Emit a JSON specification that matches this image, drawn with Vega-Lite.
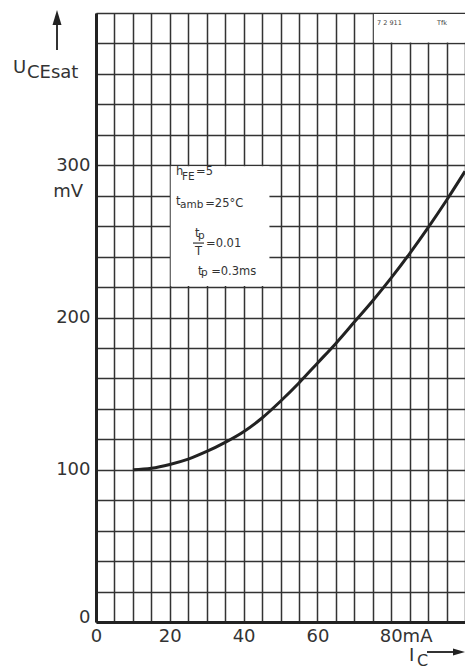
{
  "$schema": "https://vega.github.io/schema/vega-lite/v6.json",
  "width": 369,
  "height": 609,
  "autosize": {"type": "none"},
  "padding": {"left": 96, "top": 13, "right": 0, "bottom": 47},
  "background": "white",
  "view": {"stroke": null},
  "resolve": {"axis": {"x": "independent", "y": "independent"}},
  "config": {
    "font": "DejaVu Sans",
    "axis": {
      "grid": true,
      "gridColor": "#333333",
      "gridWidth": 1.5,
      "domainColor": "#222222",
      "domainWidth": 3,
      "ticks": false,
      "labelFont": "DejaVu Sans",
      "labelFontSize": 18,
      "labelColor": "#333333",
      "title": null
    }
  },
  "datasets": {
    "curve": [
      {"ic": 10, "u": 100}, {"ic": 15, "u": 101}, {"ic": 20, "u": 103.5}, {"ic": 25, "u": 107},
      {"ic": 30, "u": 112}, {"ic": 35, "u": 118}, {"ic": 40, "u": 125}, {"ic": 45, "u": 134},
      {"ic": 50, "u": 145}, {"ic": 55, "u": 157}, {"ic": 60, "u": 170}, {"ic": 65, "u": 183},
      {"ic": 70, "u": 197}, {"ic": 75, "u": 211}, {"ic": 80, "u": 226}, {"ic": 85, "u": 242},
      {"ic": 90, "u": 259}, {"ic": 95, "u": 277}, {"ic": 100, "u": 296}
    ],
    "boxes": [
      {"x1": 20.25, "x2": 47, "y1": 220.7, "y2": 299.3},
      {"x1": 75.3, "x2": 101, "y1": 380.7, "y2": 399.3}
    ],
    "mainText": [
      {"x": 21.68, "y": 293.6, "t": "h"},
      {"x": 27.1, "y": 293.6, "t": "=5"},
      {"x": 21.68, "y": 273.9, "t": "t"},
      {"x": 29.6, "y": 272.6, "t": "=25°C"},
      {"x": 26.83, "y": 252.9, "t": "t"},
      {"x": 29.81, "y": 246.3, "t": "=0.01"},
      {"x": 27.64, "y": 227.9, "t": "t"},
      {"x": 31.2, "y": 227.9, "t": "=0.3ms"}
    ],
    "subText": [
      {"x": 23.31, "y": 290.3, "t": "FE"},
      {"x": 22.76, "y": 271.9, "t": "amb"},
      {"x": 27.64, "y": 251.6, "t": "p"},
      {"x": 28.46, "y": 227.3, "t": "p"}
    ],
    "centerText": [
      {"x": 27.78, "y": 241.1, "t": "T"}
    ],
    "fracBar": [
      {"x1": 26.29, "x2": 29.27, "y": 248.9}
    ],
    "tinyText": [
      {"x": 76.15, "y": 392.1, "t": "7 2 911"},
      {"x": 92.4, "y": 392.1, "t": "Tfk"}
    ],
    "bigText": [
      {"x": -22.49, "y": 360.6, "t": "U"},
      {"x": -18.7, "y": 357.3, "t": "CEsat"},
      {"x": 84.82, "y": -25.6, "t": "I"}
    ],
    "bigSub": [
      {"x": 86.99, "y": -28.6, "t": "C"}
    ],
    "unitText": [
      {"x": -3.52, "y": 279.1, "t": "mV"}
    ],
    "arrowsV": [
      {"x": -10.57, "y1": 375.7, "y2": 396}
    ],
    "arrowsH": [
      {"x1": 89.7, "x2": 97.3, "y": -19.7}
    ],
    "headUp": [
      {"x": -10.57, "y": 397.0}
    ],
    "headRight": [
      {"x": 98.37, "y": -19.7}
    ]
  },
  "layer": [
    {
      "data": {"name": "curve"},
      "mark": {"type": "line", "interpolate": "monotone", "color": "#222222", "strokeWidth": 3, "clip": true},
      "encoding": {
        "x": {
          "field": "ic", "type": "quantitative",
          "scale": {"domain": [0, 100], "nice": false, "zero": false},
          "axis": {
            "values": [0,5,10,15,20,25,30,35,40,45,50,55,60,65,70,75,80,85,90,95,100],
            "labelExpr": "datum.value % 20 == 0 && datum.value <= 80 ? (datum.value == 80 ? '80mA' : datum.label) : ''",
            "labelAlign": {"condition": {"test": "datum.value == 80", "value": "left"}, "value": "center"},
            "labelOffset": {"condition": {"test": "datum.value == 80", "value": -12}, "value": 0},
            "labelPadding": 5,
            "labelFlush": false,
            "labelOverlap": false
          }
        },
        "y": {
          "field": "u", "type": "quantitative",
          "scale": {"domain": [0, 400], "nice": false},
          "axis": {
            "values": [0,20,40,60,80,100,120,140,160,180,200,220,240,260,280,300,320,340,360,380,400],
            "labelExpr": "datum.value % 100 == 0 && datum.value <= 300 ? datum.label : ''",
            "labelBaseline": {"condition": {"test": "datum.value == 0", "value": "alphabetic"}, "value": "middle"},
            "labelPadding": 6,
            "labelFlush": false,
            "labelOverlap": false
          }
        }
      }
    },
    {
      "data": {"name": "boxes"},
      "mark": {"type": "rect", "color": "white"},
      "encoding": {
        "x": {"field": "x1", "type": "quantitative", "axis": null},
        "x2": {"field": "x2"},
        "y": {"field": "y1", "type": "quantitative", "axis": null},
        "y2": {"field": "y2"}
      }
    },
    {
      "data": {"name": "mainText"},
      "mark": {"type": "text", "align": "left", "baseline": "alphabetic", "fontSize": 11.5, "color": "#333333"},
      "encoding": {
        "x": {"field": "x", "type": "quantitative", "axis": null},
        "y": {"field": "y", "type": "quantitative", "axis": null},
        "text": {"field": "t"}
      }
    },
    {
      "data": {"name": "subText"},
      "mark": {"type": "text", "align": "left", "baseline": "alphabetic", "fontSize": 10.5, "color": "#333333"},
      "encoding": {
        "x": {"field": "x", "type": "quantitative", "axis": null},
        "y": {"field": "y", "type": "quantitative", "axis": null},
        "text": {"field": "t"}
      }
    },
    {
      "data": {"name": "centerText"},
      "mark": {"type": "text", "align": "center", "baseline": "alphabetic", "fontSize": 11.5, "color": "#333333"},
      "encoding": {
        "x": {"field": "x", "type": "quantitative", "axis": null},
        "y": {"field": "y", "type": "quantitative", "axis": null},
        "text": {"field": "t"}
      }
    },
    {
      "data": {"name": "fracBar"},
      "mark": {"type": "rule", "color": "#333333", "strokeWidth": 1.2},
      "encoding": {
        "x": {"field": "x1", "type": "quantitative", "axis": null},
        "x2": {"field": "x2"},
        "y": {"field": "y", "type": "quantitative", "axis": null}
      }
    },
    {
      "data": {"name": "tinyText"},
      "mark": {"type": "text", "align": "left", "baseline": "alphabetic", "fontSize": 6.5, "color": "#444444"},
      "encoding": {
        "x": {"field": "x", "type": "quantitative", "axis": null},
        "y": {"field": "y", "type": "quantitative", "axis": null},
        "text": {"field": "t"}
      }
    },
    {
      "data": {"name": "bigText"},
      "mark": {"type": "text", "align": "left", "baseline": "alphabetic", "fontSize": 18, "color": "#333333"},
      "encoding": {
        "x": {"field": "x", "type": "quantitative", "axis": null},
        "y": {"field": "y", "type": "quantitative", "axis": null},
        "text": {"field": "t"}
      }
    },
    {
      "data": {"name": "bigSub"},
      "mark": {"type": "text", "align": "left", "baseline": "alphabetic", "fontSize": 16, "color": "#333333"},
      "encoding": {
        "x": {"field": "x", "type": "quantitative", "axis": null},
        "y": {"field": "y", "type": "quantitative", "axis": null},
        "text": {"field": "t"}
      }
    },
    {
      "data": {"name": "unitText"},
      "mark": {"type": "text", "align": "right", "baseline": "alphabetic", "fontSize": 18, "color": "#333333"},
      "encoding": {
        "x": {"field": "x", "type": "quantitative", "axis": null},
        "y": {"field": "y", "type": "quantitative", "axis": null},
        "text": {"field": "t"}
      }
    },
    {
      "data": {"name": "arrowsV"},
      "mark": {"type": "rule", "color": "#333333", "strokeWidth": 2},
      "encoding": {
        "x": {"field": "x", "type": "quantitative", "axis": null},
        "y": {"field": "y1", "type": "quantitative", "axis": null},
        "y2": {"field": "y2"}
      }
    },
    {
      "data": {"name": "arrowsH"},
      "mark": {"type": "rule", "color": "#333333", "strokeWidth": 2},
      "encoding": {
        "x": {"field": "x1", "type": "quantitative", "axis": null},
        "x2": {"field": "x2"},
        "y": {"field": "y", "type": "quantitative", "axis": null}
      }
    },
    {
      "data": {"name": "headUp"},
      "mark": {"type": "point", "shape": "M0,-1L0.6,1L-0.6,1Z", "size": 225, "filled": true, "color": "#222222", "opacity": 1},
      "encoding": {
        "x": {"field": "x", "type": "quantitative", "axis": null},
        "y": {"field": "y", "type": "quantitative", "axis": null}
      }
    },
    {
      "data": {"name": "headRight"},
      "mark": {"type": "point", "shape": "M1,0L-1,-0.6L-1,0.6Z", "size": 144, "filled": true, "color": "#222222", "opacity": 1},
      "encoding": {
        "x": {"field": "x", "type": "quantitative", "axis": null},
        "y": {"field": "y", "type": "quantitative", "axis": null}
      }
    }
  ]
}
